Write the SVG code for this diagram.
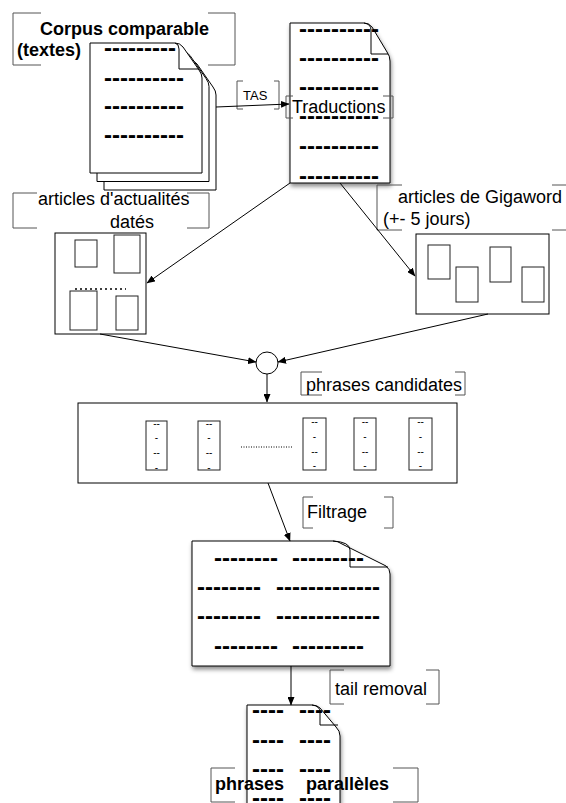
<svg xmlns="http://www.w3.org/2000/svg" width="566" height="803" viewBox="0 0 566 803">
<style>
.lbl{font-family:"Liberation Sans",Arial,sans-serif;font-size:18px;fill:#000}
.b{font-weight:bold}
.br{fill:none;stroke:#555;stroke-width:1}
.doc{fill:#fff;stroke:#000;stroke-width:1}
.fold{fill:none;stroke:#000;stroke-width:1}
.dash{font-family:"Liberation Sans",Arial,sans-serif;font-size:24px;font-weight:bold;fill:#000}
.sd{font-family:"Liberation Sans",Arial,sans-serif;font-size:10px;fill:#000;text-anchor:middle}
.box{fill:#fff;stroke:#000;stroke-width:1}
.in{fill:#fff;stroke:#222;stroke-width:1}
.con{fill:none;stroke:#000;stroke-width:1;marker-end:url(#ah)}
</style>
<defs>
<marker id="ah" markerUnits="userSpaceOnUse" markerWidth="9" markerHeight="7" refX="8" refY="3.5" orient="auto">
<path d="M0,0 L8.5,3.5 L0,7 Z" fill="#000"/>
</marker>
<filter id="sh" x="-10%" y="-10%" width="125%" height="125%">
<feDropShadow dx="1" dy="3" stdDeviation="2" flood-color="#000" flood-opacity="0.45"/>
</filter>
<path id="cdoc" d="M90,43 H175 Q180,43 183,47 L199,70 Q202,74 202,78 V173 H90 Z"/>
</defs>
<rect width="566" height="803" fill="#fff"/>

<g id="corpus">
<use href="#cdoc" transform="translate(14,17)" class="doc"/>
<use href="#cdoc" transform="translate(7,8.5)" class="doc"/>
<use href="#cdoc" class="doc"/>
<path class="fold" d="M175,43 Q179,44 179,49 V69 H199"/>
<text class="dash" x="104" y="56">---------</text>
<text class="dash" x="104" y="86">----------</text>
<text class="dash" x="104" y="114">----------</text>
<text class="dash" x="104" y="143">----------</text>
</g>
<g id="corpus-label">
<path class="br" d="M41,13 H13 V65 H41"/>
<path class="br" d="M208,13 H235 V65 H208"/>
<text class="lbl b" x="40" y="35">Corpus comparable</text>
<text class="lbl b" x="17" y="56">(textes)</text>
</g>

<g id="traductions">
<path class="doc" filter="url(#sh)" d="M290,23 H364 Q369,23 372,27 L387,52 Q390,56 390,61 V183 H290 Z"/>
<path class="fold" d="M364,23 Q371,24 371,30 V54 H388"/>
<text class="dash" x="299" y="37">----------</text>
<text class="dash" x="299" y="66">----------</text>
<text class="dash" x="299" y="95">----------</text>
<text class="dash" x="299" y="124">----------</text>
<text class="dash" x="299" y="154">----------</text>
<text class="dash" x="299" y="184">----------</text>
<path class="br" d="M293,96 H286 V118 H293"/>
<path class="br" d="M383,96 H393 V118 H383"/>
<text class="lbl" x="292" y="113">Traductions</text>
</g>

<g id="tas-label">
<path class="br" d="M243,81 H237 V109 H243"/>
<path class="br" d="M274,81 H279 V109 H274"/>
<text class="lbl" style="font-size:13px" x="243" y="100">TAS</text>
</g>

<g id="articles-dates">
<path class="br" d="M37,193 H13 V228 H37"/>
<path class="br" d="M187,193 H209 V228 H187"/>
<text class="lbl" x="38" y="205">articles d'actualités</text>
<text class="lbl" x="110" y="228">datés</text>
<rect class="box" x="55" y="233" width="91" height="101"/>
<rect class="in" x="75" y="240" width="22" height="27"/>
<rect class="in" x="114" y="235" width="26" height="38"/>
<rect class="in" x="70" y="291" width="27" height="39"/>
<rect class="in" x="116" y="296" width="22" height="34"/>
<line x1="75" y1="289" x2="126" y2="289" stroke="#000" stroke-width="1.5" stroke-dasharray="2,3"/>
</g>

<g id="gigaword">
<path class="br" d="M402,185 H377 V230 H402"/>
<path class="br" d="M552,185 H572 V230 H552"/>
<text class="lbl" x="398" y="203">articles de Gigaword</text>
<text class="lbl" x="383" y="225">(+- 5 jours)</text>
<rect class="box" x="416" y="234" width="133" height="80"/>
<rect class="in" x="428" y="245" width="22" height="34"/>
<rect class="in" x="456" y="267" width="22" height="35"/>
<rect class="in" x="490" y="247" width="21" height="35"/>
<rect class="in" x="522" y="267" width="22" height="35"/>
</g>

<g id="merge">
<circle cx="267" cy="363" r="11" fill="#fff" stroke="#000" stroke-width="1"/>
</g>

<g id="candidates">
<path class="br" d="M322,372 H301 V395 H322"/>
<path class="br" d="M455,372 H465 V395 H455"/>
<text class="lbl" x="306" y="391">phrases candidates</text>
<rect class="box" x="78" y="403" width="379" height="80"/>
<rect class="in" x="146" y="421" width="21" height="49"/>
<rect class="in" x="198" y="421" width="22" height="49"/>
<rect class="in" x="303" y="418" width="23" height="52"/>
<rect class="in" x="354" y="418" width="22" height="52"/>
<rect class="in" x="409" y="418" width="23" height="52"/>
<g class="sd">
<text x="156.5" y="427">--</text><text x="156.5" y="441">-</text><text x="156.5" y="456">--</text><text x="156.5" y="471">-</text>
<text x="209" y="427">--</text><text x="209" y="441">-</text><text x="209" y="456">--</text><text x="209" y="471">-</text>
<text x="314.5" y="425">--</text><text x="314.5" y="440">-</text><text x="314.5" y="455">--</text><text x="314.5" y="469">-</text>
<text x="365" y="425">--</text><text x="365" y="440">-</text><text x="365" y="455">--</text><text x="365" y="469">-</text>
<text x="420.5" y="425">--</text><text x="420.5" y="440">-</text><text x="420.5" y="455">--</text><text x="420.5" y="469">-</text>
</g>
<line x1="241" y1="447" x2="292" y2="447" stroke="#000" stroke-width="1" stroke-dasharray="1,1.5"/>
</g>

<g id="filtrage">
<path class="br" d="M313,497 H303 V528 H313"/>
<path class="br" d="M384,497 H393 V528 H384"/>
<text class="lbl" x="307" y="518">Filtrage</text>
<path class="doc" filter="url(#sh)" d="M192,541 H333 Q338,541 342,544 L386,566 Q390,569 390,574 V666 H192 Z"/>
<path class="fold" d="M333,541 Q350,542 350,550 V567 H388"/>
<text class="dash" y="566"><tspan x="214">--------</tspan><tspan x="292">---------</tspan></text>
<text class="dash" y="595"><tspan x="197">--------</tspan><tspan x="276">-------------</tspan></text>
<text class="dash" y="624"><tspan x="197">--------</tspan><tspan x="276">-------------</tspan></text>
<text class="dash" y="654"><tspan x="214">--------</tspan><tspan x="292">---------</tspan></text>
</g>

<g id="tail-removal">
<path class="br" d="M344,670 H330 V704 H344"/>
<path class="br" d="M426,670 H439 V704 H426"/>
<text class="lbl" x="335" y="695">tail removal</text>
</g>

<g id="paralleles">
<path class="doc" filter="url(#sh)" d="M247,705 H312 Q317,705 320,708 L336,727 Q340,731 340,736 V812 H247 Z"/>
<path class="fold" d="M312,705 Q320,706 320,712 V725 H338"/>
<text class="dash" y="718"><tspan x="252">----</tspan><tspan x="299">----</tspan></text>
<text class="dash" y="748"><tspan x="252">----</tspan><tspan x="299">----</tspan></text>
<text class="dash" y="777"><tspan x="252">----</tspan><tspan x="299">----</tspan></text>
<text class="dash" y="806"><tspan x="252">----</tspan><tspan x="299">----</tspan></text>
<path class="br" d="M235,768 H211 V802 H235"/>
<path class="br" d="M393,768 H418 V802 H393"/>
<text class="lbl b" y="790"><tspan x="215">phrases</tspan><tspan x="306">parallèles</tspan></text>
</g>

<g id="connectors">
<path class="con" d="M216,107 L289,104"/>
<path class="con" d="M290,183 L147,283"/>
<path class="con" d="M340,183 L415,276"/>
<path class="con" d="M100,334 L256,362"/>
<path class="con" d="M488,314 L278,362"/>
<path class="con" d="M267,374 L267,402"/>
<path class="con" d="M268,483 L290,541"/>
<path class="con" d="M291,666 L291,705"/>
</g>
</svg>
